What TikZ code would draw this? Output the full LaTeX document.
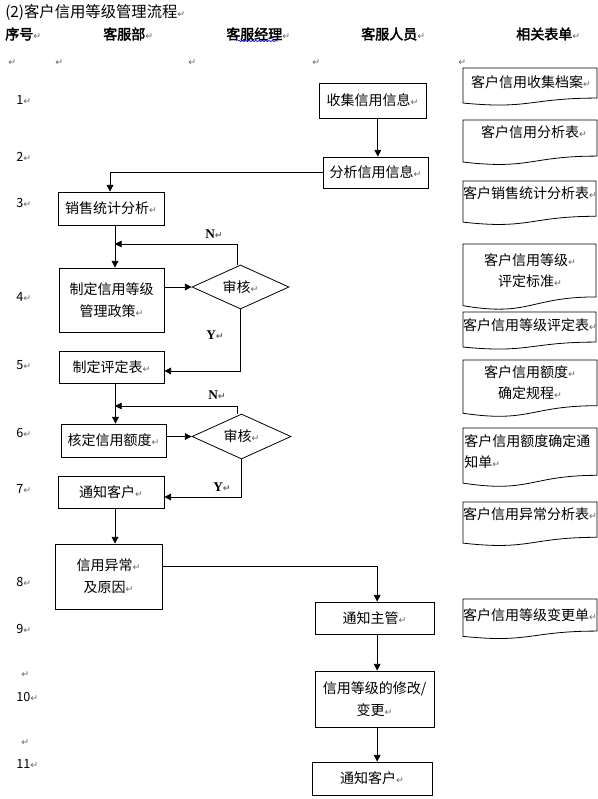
\documentclass[tikz,border=0pt]{standalone}
\usepackage{fontspec}
\setmainfont{Liberation Serif}
\newfontfamily\cjk{Noto Sans CJK SC}
\newfontfamily\cjkbold{Noto Sans CJK SC}[FakeBold=2.5]
\newfontfamily\dejavu{DejaVu Sans}
\usetikzlibrary{arrows.meta,shapes.geometric,decorations.pathmorphing}
\newcommand\rt{{\dejavu\fontsize{7}{7}\selectfont\color{black!60}↵}}
\def\docshape(#1,#2)(#3,#4){\draw[line width=0.6pt] (#1,#2) -- ({#1+#3},#2) -- ({#1+#3},{#2+0.802*#4}) .. controls ({#1+#3/2},{#2+0.802*#4}) and ({#1+#3/2},{#2+1.108*#4}) .. (#1,{#2+0.934*#4}) -- cycle}
\tikzset{
	box/.style={draw, line width=0.6pt, inner sep=0pt, align=center, font=\cjk\fontsize{10.5}{16.5}\selectfont},
	check/.style={draw, diamond, shape aspect=2.2, line width=0.6pt, inner sep=0pt, font=\cjk\fontsize{10.5}{12}\selectfont},
	flow/.style={line width=0.6pt, -{Triangle[length=5pt,width=5pt]}},
	txt/.style={inner sep=0pt, font=\cjk\fontsize{10.5}{15.75}\selectfont},
	head/.style={inner sep=0pt, anchor=west, font=\cjkbold\fontsize{10.5}{12}\selectfont},
	num/.style={inner sep=0pt, anchor=west, font=\cjk\fontsize{9.5}{10}\selectfont},
	yn/.style={inner sep=0pt, font=\bfseries\fontsize{10}{10}\selectfont},
}

\begin{document}
\begin{tikzpicture}[x=0.75pt, y=-0.75pt]
			%%%%% START %%%%%
			\useasboundingbox (0,0) rectangle (598,799);
			
			\node[anchor=west, inner sep=0pt, font=\cjk\fontsize{11.5}{12}\selectfont] (title) at (5,12) {(2)客户信用等级管理流程\rt};
			\node[head] (hno) at (5,34) {序号\rt};
			\node[head] (hdept) at (103,34) {客服部\rt};
			\node[head] (hmgr) at (226,34) {客服经理\rt};
			\node[head] (hstaff) at (361,34) {客服人员\rt};
			\node[head] (hform) at (516,34) {相关表单\rt};
			\draw[blue, line width=0.5pt, decorate, decoration={snake, amplitude=0.5pt, segment length=2.5pt}] (238,41) -- (278,41);
			
			\foreach \x in {8,55,188,312,458} \node[inner sep=0pt, anchor=west] (mark\x) at (\x,63) {\rt};
			\node[inner sep=0pt, anchor=west] (mark10) at (21,675) {\rt};
			\node[inner sep=0pt, anchor=west] (mark11) at (21,743) {\rt};
			\foreach \n/\y in {1/100, 2/157, 3/203, 4/297, 5/365, 6/433, 7/489, 8/582, 9/629, 10/697, 11/764}
				\node[num] (row\n) at (16,\y) {\n\rt};
			
			% steps
			\node[box, minimum width=80.25pt, minimum height=26.25pt] (collect) at (372.5,100.5) {收集信用信息\rt};
			\node[box, minimum width=78.75pt, minimum height=23.25pt] (analyse) at (375.5,172.5) {分析信用信息\rt};
			\node[box, minimum width=79.5pt, minimum height=24.75pt] (sales) at (111,208.5) {销售统计分析\rt};
			\node[box, minimum width=78.75pt, minimum height=48pt] (policy) at (111.5,300) {制定信用等级\\管理政策\rt};
			\node[box, minimum width=78.75pt, minimum height=24pt] (rtable) at (111.5,367) {制定评定表\rt};
			\node[box, minimum width=78.75pt, minimum height=24.75pt] (quota) at (113.5,440.5) {核定信用额度\rt};
			\node[box, minimum width=79.5pt, minimum height=24pt] (notify) at (111,492) {通知客户\rt};
			\node[box, minimum width=80.25pt, minimum height=48.75pt] (abnormal) at (108.5,576.5) {信用异常\rt\\及原因\rt};
			\node[box, minimum width=89.25pt, minimum height=24pt] (boss) at (374.5,618) {通知主管\rt};
			\node[box, minimum width=89.25pt, minimum height=42pt] (modify) at (374.5,699) {信用等级的修改/\\变更\rt};
			\node[box, minimum width=90pt, minimum height=24.75pt] (inform) at (372,778.5) {通知客户\rt};
			
			\node[check, minimum width=72.75pt, minimum height=33pt] (audit1) at (240.5,287) {审核\rt};
			\node[check, minimum width=74.25pt, minimum height=33.75pt] (audit2) at (241.5,436.5) {审核\rt};
			\coordinate (back1) at (115,244);
			\coordinate (back2) at (115,406);
			
			\draw[flow] ([xshift=4pt]collect.south) -- ([xshift=4pt]collect.south |- analyse.north);
			\draw[flow] (analyse.west) -| ([xshift=-0.75pt]sales.north);
			\draw[flow] ([xshift=3pt]sales.south) -- ([xshift=3pt]sales.south |- policy.north);
			\draw[flow] (audit1.west -| policy.east) -- (audit1.west);
			\draw[flow] ([xshift=-2.5pt]audit1.north) |- (back1);
			\draw[flow] (audit1.south) |- ([yshift=-3pt]rtable.east);
			\draw[flow] ([xshift=3pt]rtable.south) -- ([xshift=3pt]rtable.south |- quota.north);
			\draw[flow] (audit2.west -| quota.east) -- (audit2.west);
			\draw[flow] ([xshift=-3pt]audit2.north) |- (back2);
			\draw[flow] (audit2.south) |- ([yshift=-3.75pt]notify.east);
			\draw[flow] ([xshift=3pt]notify.south) -- ([xshift=3pt]notify.south |- abnormal.north);
			\draw[flow] ([yshift=7.5pt]abnormal.east) -| ([xshift=2pt]boss.north);
			\draw[flow] ([xshift=2pt]boss.south) -- ([xshift=2pt]boss.south |- modify.north);
			\draw[flow] ([xshift=2pt]modify.south) -- ([xshift=2pt]modify.south |- inform.north);
			
			\node[yn] (n1) at (214,234) {N\rt};
			\node[yn] (y1) at (215,335) {Y\rt};
			\node[yn] (n2) at (217,395) {N\rt};
			\node[yn] (y2) at (222,487) {Y\rt};
			
			% forms
			\docshape(463,68)(134,37.5);
			\docshape(463,120)(134,45);
			\docshape(463,181)(133,44);
			\docshape(463,244)(133,66);
			\docshape(463,312)(133,37.5);
			\docshape(463,360)(134,57);
			\docshape(463,428)(134,59);
			\docshape(463,502)(134,44);
			\docshape(463,599)(134,40);
			
			\node[txt] (form1) at (531,82) {客户信用收集档案\rt};
			\node[txt] (form2) at (534,132) {客户信用分析表\rt};
			\node[txt] (form3) at (530,193) {客户销售统计分析表\rt};
			\node[txt, align=center] (form4) at (530,270.5) {客户信用等级\rt\\评定标准\rt};
			\node[txt] (form5) at (530,325) {客户信用等级评定表\rt};
			\node[txt, align=center] (form6) at (530,383) {客户信用额度\rt\\确定规程\rt};
			\node[txt, align=left, anchor=west] (form7) at (464,452) {客户信用额度确定通\\知单\rt};
			\node[txt] (form8) at (530,514) {客户信用异常分析表\rt};
			\node[txt] (form9) at (530,615) {客户信用等级变更单\rt};
			%%%%% END %%%%%
\end{tikzpicture}
\end{document}
